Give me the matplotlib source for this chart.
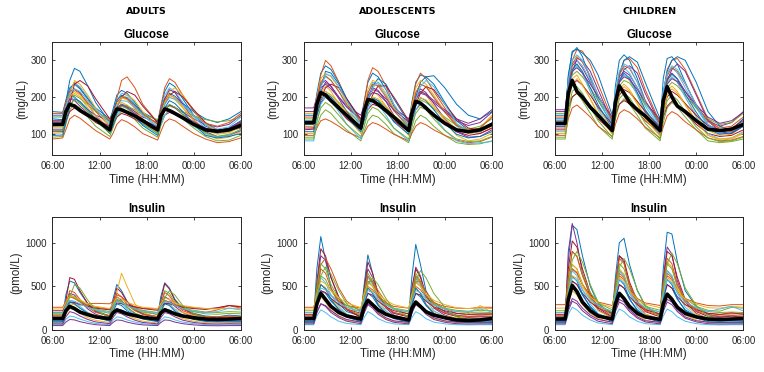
import matplotlib
matplotlib.use("Agg")
import matplotlib.pyplot as plt

# time knots, hours after 06:00
hours = [0, 1.3, 1.7, 2.2, 2.8, 3.5, 4.5, 5.5, 7.3, 7.7, 8.2, 8.8, 9.5, 10.5,
         11.5, 13.4, 13.8, 14.3, 14.9, 15.6, 16.6, 18, 19.5, 21, 22.5, 24]
tick_hours = [0, 6, 12, 18, 24]
tick_labels = ["06:00", "12:00", "18:00", "00:00", "06:00"]
groups = ["ADULTS", "ADOLESCENTS", "CHILDREN"]

# mean profiles (black)
adult_glu_mean = [125, 125, 160, 180, 175, 163, 150, 138, 110, 145, 167, 165, 158, 148, 135, 110, 148, 167, 163, 155, 143, 125, 110, 106, 110, 122]
adol_glu_mean = [130, 130, 180, 212, 205, 190, 170, 150, 115, 160, 193, 190, 180, 163, 145, 108, 155, 188, 183, 170, 150, 128, 110, 105, 110, 125]
child_glu_mean = [128, 128, 210, 245, 215, 200, 172, 150, 108, 185, 230, 210, 185, 165, 148, 108, 190, 228, 200, 175, 160, 135, 112, 108, 112, 125]
adult_ins_mean = [130, 130, 220, 270, 245, 205, 175, 150, 130, 195, 230, 210, 185, 165, 145, 125, 195, 232, 210, 185, 160, 140, 125, 120, 125, 130]
adol_ins_mean = [130, 130, 300, 420, 350, 270, 200, 160, 125, 260, 340, 290, 230, 180, 150, 115, 250, 320, 270, 210, 170, 140, 115, 110, 115, 130]
child_ins_mean = [125, 125, 350, 510, 440, 320, 220, 160, 125, 300, 420, 360, 270, 190, 150, 120, 300, 410, 350, 260, 190, 150, 125, 120, 125, 130]

# individual subjects
adult_glu = [
    [140, 138, 185, 245, 278, 270, 230, 185, 130, 165, 205, 218, 210, 185, 155, 125, 170, 215, 238, 228, 195, 150, 120, 108, 115, 135],
    [120, 122, 165, 215, 240, 225, 195, 160, 120, 150, 195, 245, 255, 225, 180, 130, 175, 225, 250, 240, 205, 160, 125, 105, 110, 128],
    [100, 102, 140, 190, 210, 200, 170, 140, 105, 130, 165, 185, 178, 160, 135, 100, 140, 180, 200, 192, 170, 135, 100, 85, 90, 105],
    [150, 150, 180, 205, 200, 185, 165, 150, 135, 150, 170, 180, 175, 160, 145, 130, 150, 170, 178, 172, 158, 140, 125, 118, 125, 150],
    [90, 92, 125, 165, 180, 170, 145, 120, 92, 115, 145, 160, 155, 138, 115, 90, 120, 150, 165, 158, 140, 115, 92, 80, 82, 95],
    [130, 130, 170, 220, 238, 228, 200, 165, 125, 150, 190, 210, 205, 180, 150, 115, 160, 205, 225, 215, 185, 145, 115, 100, 105, 125],
    [110, 110, 135, 160, 170, 162, 148, 130, 112, 125, 145, 155, 150, 140, 125, 108, 130, 150, 158, 152, 140, 125, 112, 105, 108, 115],
    [160, 158, 190, 225, 235, 222, 195, 170, 140, 160, 190, 205, 198, 178, 158, 135, 165, 195, 210, 202, 182, 160, 140, 130, 140, 160],
    [85, 88, 110, 140, 150, 142, 125, 108, 85, 100, 125, 138, 132, 118, 100, 82, 105, 130, 140, 135, 120, 100, 85, 75, 78, 88],
    [125, 126, 165, 205, 245, 235, 205, 170, 118, 140, 175, 195, 205, 190, 160, 120, 150, 185, 215, 225, 205, 165, 125, 105, 105, 120],
    [105, 105, 150, 200, 222, 212, 180, 148, 108, 135, 175, 200, 195, 170, 140, 105, 150, 195, 220, 212, 180, 138, 105, 92, 95, 108],
    [145, 145, 170, 195, 205, 196, 178, 160, 140, 150, 168, 178, 175, 165, 152, 138, 152, 168, 175, 170, 160, 148, 138, 132, 135, 145],
    [115, 115, 155, 190, 200, 185, 160, 135, 105, 125, 150, 165, 160, 145, 125, 100, 125, 150, 162, 155, 140, 120, 100, 90, 95, 112],
    [135, 135, 160, 180, 235, 245, 230, 195, 140, 150, 170, 200, 215, 205, 175, 130, 150, 180, 205, 215, 200, 165, 130, 110, 112, 130],
    [95, 96, 130, 175, 195, 188, 165, 138, 100, 120, 155, 175, 170, 150, 122, 95, 130, 170, 190, 182, 160, 125, 95, 88, 92, 100],
    [155, 155, 185, 215, 220, 208, 185, 162, 135, 155, 185, 200, 195, 175, 152, 128, 160, 190, 205, 198, 178, 150, 128, 120, 130, 155],
    [118, 118, 160, 200, 215, 205, 178, 150, 115, 140, 178, 198, 192, 168, 140, 110, 148, 185, 205, 198, 172, 138, 110, 98, 102, 118],
    [132, 132, 168, 195, 190, 175, 155, 138, 120, 138, 165, 178, 172, 155, 138, 118, 140, 165, 178, 170, 152, 132, 115, 108, 115, 132],
    [108, 108, 145, 180, 192, 182, 160, 135, 102, 128, 160, 175, 168, 150, 128, 100, 132, 165, 180, 172, 152, 125, 102, 92, 98, 110],
    [148, 148, 175, 210, 222, 215, 190, 165, 130, 145, 175, 190, 188, 172, 150, 120, 150, 180, 198, 195, 178, 150, 125, 112, 118, 145],
]
adol_glu = [
    [150, 150, 210, 265, 285, 275, 240, 195, 135, 185, 240, 265, 255, 220, 175, 125, 185, 240, 260, 255, 258, 225, 180, 150, 140, 160],
    [120, 118, 190, 260, 300, 285, 240, 190, 130, 180, 245, 280, 270, 230, 180, 120, 175, 235, 265, 250, 215, 170, 125, 105, 100, 115],
    [100, 100, 160, 210, 230, 215, 180, 145, 100, 140, 190, 215, 205, 175, 140, 95, 140, 190, 215, 205, 175, 135, 95, 80, 85, 100],
    [170, 170, 200, 235, 245, 230, 200, 175, 150, 175, 205, 220, 215, 195, 170, 140, 170, 200, 215, 208, 190, 165, 140, 128, 140, 165],
    [85, 85, 120, 150, 165, 155, 130, 110, 80, 105, 135, 150, 145, 125, 100, 75, 105, 135, 150, 142, 120, 95, 75, 70, 72, 80],
    [135, 135, 185, 235, 255, 245, 215, 175, 120, 160, 210, 240, 235, 205, 165, 115, 160, 210, 235, 228, 200, 160, 120, 100, 105, 130],
    [110, 112, 150, 185, 200, 190, 165, 140, 110, 135, 165, 180, 175, 158, 135, 105, 135, 165, 180, 172, 155, 130, 105, 95, 100, 115],
    [125, 125, 175, 225, 270, 265, 235, 195, 135, 150, 190, 230, 250, 235, 195, 130, 155, 200, 240, 255, 235, 185, 135, 110, 105, 125],
    [95, 95, 115, 135, 140, 133, 120, 105, 88, 100, 120, 130, 125, 112, 98, 80, 100, 120, 130, 124, 110, 95, 82, 75, 78, 90],
    [155, 155, 200, 250, 265, 255, 225, 185, 135, 170, 220, 245, 240, 210, 170, 125, 175, 225, 245, 235, 205, 160, 125, 110, 115, 150],
    [115, 115, 165, 215, 240, 228, 195, 160, 115, 150, 200, 225, 218, 188, 150, 105, 150, 200, 222, 212, 182, 140, 105, 90, 92, 110],
    [140, 140, 175, 205, 215, 205, 185, 162, 128, 150, 180, 195, 190, 172, 150, 118, 148, 178, 192, 185, 168, 145, 122, 112, 120, 140],
    [80, 80, 130, 180, 200, 188, 160, 125, 85, 120, 165, 190, 180, 150, 115, 80, 120, 165, 185, 175, 148, 110, 80, 72, 75, 78],
    [130, 130, 160, 195, 225, 235, 225, 195, 140, 150, 175, 205, 230, 230, 200, 135, 150, 180, 210, 228, 220, 180, 140, 115, 110, 128],
    [105, 105, 150, 190, 210, 200, 175, 145, 105, 135, 175, 198, 190, 165, 132, 98, 135, 175, 198, 190, 165, 128, 98, 88, 92, 105],
    [145, 145, 195, 240, 258, 245, 215, 180, 130, 165, 210, 235, 230, 200, 162, 120, 165, 212, 235, 228, 198, 158, 122, 108, 115, 145],
    [120, 120, 165, 200, 215, 205, 182, 155, 118, 145, 180, 200, 195, 175, 150, 112, 145, 180, 198, 192, 172, 142, 112, 100, 105, 120],
    [160, 160, 195, 225, 235, 222, 198, 172, 140, 165, 198, 212, 208, 188, 165, 132, 165, 195, 210, 205, 185, 160, 135, 122, 130, 158],
    [90, 90, 135, 170, 185, 175, 150, 125, 92, 118, 155, 172, 165, 142, 115, 85, 118, 155, 172, 165, 140, 108, 85, 78, 80, 92],
    [128, 128, 180, 225, 262, 258, 228, 190, 125, 150, 195, 225, 240, 222, 180, 118, 150, 195, 228, 245, 228, 180, 128, 105, 105, 125],
]
child_glu = [
    [140, 140, 260, 320, 335, 310, 250, 190, 125, 230, 300, 315, 300, 250, 190, 120, 250, 305, 310, 290, 240, 175, 125, 105, 110, 140],
    [115, 115, 230, 300, 330, 325, 290, 235, 140, 200, 265, 300, 305, 280, 220, 130, 210, 275, 300, 305, 275, 210, 140, 110, 105, 120],
    [100, 100, 200, 250, 260, 235, 195, 150, 100, 175, 220, 235, 220, 185, 145, 95, 170, 215, 230, 215, 180, 135, 95, 82, 85, 100],
    [165, 165, 240, 285, 300, 280, 240, 200, 140, 200, 255, 270, 260, 225, 185, 130, 195, 250, 265, 250, 215, 170, 135, 120, 130, 160],
    [85, 85, 150, 200, 210, 190, 155, 120, 85, 140, 180, 195, 180, 150, 115, 80, 130, 170, 185, 172, 145, 110, 80, 75, 78, 85],
    [130, 130, 250, 295, 300, 285, 245, 195, 120, 210, 265, 280, 265, 225, 175, 115, 215, 265, 280, 265, 225, 170, 120, 100, 100, 125],
    [110, 110, 170, 200, 210, 195, 170, 140, 105, 150, 180, 190, 182, 160, 135, 100, 145, 175, 188, 178, 155, 125, 100, 92, 95, 110],
    [150, 150, 255, 325, 330, 320, 300, 260, 150, 200, 260, 300, 310, 295, 240, 140, 210, 270, 300, 310, 300, 240, 160, 120, 110, 140],
    [95, 95, 140, 170, 178, 165, 145, 120, 92, 125, 155, 165, 158, 140, 118, 88, 118, 148, 160, 152, 132, 110, 88, 80, 82, 92],
    [125, 125, 230, 280, 290, 265, 215, 170, 110, 195, 245, 260, 245, 205, 160, 105, 190, 240, 255, 240, 200, 150, 108, 95, 98, 120],
    [120, 120, 210, 265, 305, 300, 270, 220, 130, 185, 240, 275, 285, 265, 210, 125, 190, 245, 275, 290, 270, 205, 135, 105, 100, 120],
    [155, 155, 225, 260, 270, 255, 225, 190, 140, 190, 230, 245, 238, 210, 180, 135, 185, 225, 240, 230, 205, 170, 140, 125, 130, 155],
    [105, 105, 210, 270, 285, 265, 215, 165, 100, 185, 240, 260, 248, 205, 155, 95, 180, 235, 255, 240, 200, 145, 100, 85, 88, 105],
    [135, 135, 200, 235, 245, 232, 205, 172, 125, 170, 205, 220, 212, 188, 160, 118, 165, 200, 215, 205, 182, 150, 122, 110, 115, 135],
    [120, 120, 220, 275, 290, 270, 225, 178, 115, 190, 245, 265, 252, 212, 165, 110, 195, 245, 262, 248, 208, 158, 112, 98, 102, 120],
    [145, 145, 235, 290, 310, 295, 255, 205, 135, 205, 260, 285, 278, 240, 190, 128, 205, 258, 280, 270, 235, 180, 132, 115, 120, 145],
    [100, 100, 185, 235, 250, 232, 195, 155, 98, 165, 210, 228, 215, 180, 140, 92, 160, 205, 222, 210, 178, 132, 95, 85, 88, 102],
    [160, 160, 235, 270, 280, 265, 235, 200, 145, 195, 240, 255, 248, 220, 185, 138, 192, 235, 250, 242, 215, 178, 145, 128, 135, 158],
    [90, 90, 165, 215, 228, 210, 172, 135, 90, 150, 195, 210, 198, 165, 128, 85, 148, 190, 205, 192, 160, 118, 88, 78, 80, 90],
    [135, 135, 245, 300, 315, 300, 258, 205, 128, 215, 270, 290, 282, 240, 185, 120, 215, 265, 285, 275, 238, 178, 125, 105, 108, 132],
]
adult_ins = [
    [150, 150, 400, 560, 540, 430, 300, 220, 160, 350, 520, 450, 330, 240, 190, 150, 380, 540, 480, 350, 250, 190, 160, 150, 170, 160],
    [260, 260, 330, 380, 360, 320, 280, 260, 240, 290, 340, 320, 290, 265, 250, 240, 290, 340, 320, 290, 270, 255, 245, 250, 280, 270],
    [80, 80, 180, 250, 230, 190, 140, 110, 85, 170, 230, 210, 170, 130, 100, 80, 170, 230, 210, 170, 130, 100, 85, 80, 85, 85],
    [120, 120, 280, 420, 400, 330, 240, 180, 130, 260, 380, 340, 260, 190, 150, 120, 260, 380, 350, 270, 200, 150, 125, 120, 130, 125],
    [200, 200, 300, 380, 370, 330, 280, 240, 210, 270, 330, 310, 280, 250, 225, 200, 270, 330, 310, 280, 250, 225, 205, 200, 210, 205],
    [60, 60, 120, 160, 150, 125, 95, 75, 60, 110, 150, 140, 115, 90, 72, 60, 110, 150, 140, 115, 90, 72, 62, 58, 60, 60],
    [140, 140, 330, 600, 580, 450, 300, 210, 150, 300, 480, 430, 320, 230, 180, 145, 330, 530, 470, 340, 240, 180, 150, 140, 150, 145],
    [100, 100, 200, 270, 260, 220, 175, 140, 110, 180, 240, 230, 200, 160, 130, 105, 180, 240, 230, 195, 160, 130, 110, 100, 105, 100],
    [170, 170, 260, 320, 310, 285, 300, 305, 300, 330, 400, 380, 320, 260, 220, 175, 260, 330, 320, 280, 240, 210, 200, 230, 280, 250],
    [130, 130, 230, 300, 290, 250, 200, 165, 140, 250, 430, 650, 500, 300, 200, 140, 220, 300, 290, 240, 200, 165, 140, 130, 140, 135],
    [50, 50, 90, 120, 115, 95, 75, 60, 50, 85, 115, 110, 90, 70, 58, 50, 85, 115, 110, 90, 72, 58, 50, 48, 50, 50],
    [180, 180, 300, 400, 380, 330, 270, 225, 190, 260, 350, 330, 280, 235, 205, 180, 300, 450, 420, 320, 250, 210, 185, 180, 190, 185],
    [110, 110, 260, 340, 320, 270, 200, 150, 115, 230, 330, 310, 240, 175, 135, 110, 220, 320, 300, 230, 170, 130, 112, 105, 112, 110],
    [220, 220, 280, 320, 315, 295, 270, 250, 230, 270, 310, 300, 285, 265, 245, 225, 265, 305, 300, 280, 260, 245, 235, 255, 280, 265],
    [90, 90, 220, 320, 300, 250, 190, 145, 100, 210, 300, 280, 220, 165, 125, 95, 210, 300, 280, 215, 160, 120, 98, 92, 95, 92],
    [160, 160, 300, 450, 430, 350, 260, 200, 165, 280, 420, 380, 290, 220, 180, 155, 290, 430, 390, 300, 220, 175, 155, 150, 160, 155],
    [240, 240, 320, 390, 380, 345, 300, 270, 245, 300, 370, 355, 315, 285, 260, 245, 300, 365, 350, 310, 280, 260, 245, 240, 250, 245],
    [70, 70, 150, 210, 195, 160, 120, 92, 72, 140, 200, 185, 150, 112, 86, 70, 140, 200, 185, 150, 112, 86, 72, 68, 72, 70],
    [120, 120, 250, 380, 520, 480, 340, 230, 140, 240, 350, 330, 260, 195, 155, 125, 250, 370, 450, 400, 280, 185, 135, 120, 125, 120],
    [190, 190, 280, 340, 330, 300, 260, 230, 200, 270, 330, 315, 280, 245, 215, 195, 270, 330, 315, 280, 245, 215, 200, 210, 250, 230],
]
adol_ins = [
    [150, 150, 700, 1070, 800, 480, 300, 210, 160, 500, 860, 650, 400, 260, 200, 160, 600, 980, 750, 450, 290, 210, 170, 155, 160, 155],
    [260, 260, 400, 520, 480, 400, 320, 280, 250, 380, 500, 460, 380, 310, 270, 250, 380, 500, 460, 380, 310, 270, 250, 245, 260, 260],
    [80, 80, 260, 380, 320, 230, 150, 110, 85, 230, 330, 280, 190, 130, 100, 80, 230, 330, 280, 190, 130, 100, 82, 78, 80, 80],
    [120, 120, 500, 850, 800, 600, 380, 240, 140, 420, 700, 600, 400, 250, 170, 125, 450, 720, 620, 400, 250, 170, 130, 120, 125, 120],
    [200, 200, 420, 620, 580, 450, 330, 260, 210, 380, 560, 500, 380, 290, 240, 205, 380, 560, 500, 380, 290, 240, 210, 200, 205, 200],
    [60, 60, 160, 230, 200, 150, 100, 75, 60, 140, 210, 180, 130, 90, 70, 60, 140, 210, 180, 130, 90, 70, 60, 58, 60, 60],
    [140, 140, 550, 930, 850, 600, 360, 230, 150, 450, 780, 650, 420, 270, 190, 150, 480, 700, 600, 400, 260, 190, 155, 145, 150, 145],
    [100, 100, 300, 450, 420, 330, 240, 170, 110, 280, 420, 380, 280, 190, 140, 105, 280, 420, 380, 280, 190, 140, 110, 100, 105, 100],
    [170, 170, 380, 750, 820, 700, 480, 330, 210, 350, 550, 560, 450, 320, 240, 180, 350, 550, 560, 440, 320, 240, 190, 175, 180, 175],
    [130, 130, 350, 520, 480, 360, 250, 180, 135, 320, 500, 440, 310, 210, 160, 130, 320, 480, 420, 300, 210, 160, 135, 185, 280, 200],
    [90, 90, 200, 300, 280, 220, 160, 120, 90, 200, 300, 270, 200, 140, 105, 88, 200, 300, 270, 200, 140, 105, 90, 85, 88, 90],
    [220, 220, 500, 760, 700, 520, 360, 280, 230, 420, 650, 560, 400, 300, 250, 220, 420, 650, 560, 400, 300, 250, 225, 215, 225, 220],
    [110, 110, 420, 600, 540, 400, 270, 180, 115, 380, 600, 520, 350, 220, 150, 110, 380, 600, 520, 350, 220, 150, 115, 105, 110, 110],
    [180, 180, 330, 450, 430, 360, 290, 240, 190, 310, 420, 400, 330, 265, 220, 185, 310, 420, 400, 330, 265, 220, 190, 180, 185, 185],
    [90, 90, 330, 520, 470, 350, 230, 150, 95, 300, 480, 420, 290, 190, 130, 90, 300, 480, 420, 290, 190, 130, 95, 88, 90, 88],
    [160, 160, 430, 700, 650, 480, 330, 240, 165, 380, 620, 540, 380, 260, 200, 160, 380, 620, 540, 380, 260, 200, 165, 155, 160, 158],
    [240, 240, 420, 560, 530, 450, 370, 310, 255, 400, 540, 500, 410, 340, 290, 250, 400, 540, 500, 410, 340, 290, 255, 245, 250, 245],
    [70, 70, 200, 300, 270, 200, 140, 100, 72, 190, 290, 250, 180, 120, 88, 70, 190, 290, 250, 180, 120, 88, 72, 68, 70, 70],
    [120, 120, 380, 620, 720, 640, 450, 300, 160, 330, 520, 600, 520, 360, 240, 150, 350, 560, 680, 600, 420, 260, 150, 125, 125, 120],
    [200, 200, 350, 480, 460, 390, 310, 260, 210, 330, 450, 430, 350, 285, 240, 205, 330, 450, 430, 350, 285, 240, 210, 210, 240, 210],
]
child_ins = [
    [150, 150, 800, 1200, 1150, 850, 500, 300, 180, 600, 1000, 1050, 750, 450, 280, 160, 700, 1120, 1100, 780, 450, 270, 180, 150, 160, 150],
    [290, 290, 500, 700, 650, 520, 400, 320, 280, 450, 620, 580, 460, 360, 310, 280, 450, 620, 580, 460, 360, 310, 280, 275, 290, 290],
    [80, 80, 300, 450, 400, 290, 190, 130, 85, 280, 420, 380, 270, 170, 115, 80, 280, 420, 380, 270, 170, 115, 85, 78, 80, 80],
    [120, 120, 900, 1220, 1000, 650, 380, 230, 140, 520, 850, 780, 500, 300, 180, 125, 600, 950, 870, 560, 320, 190, 130, 120, 125, 120],
    [200, 200, 500, 750, 700, 530, 360, 270, 210, 450, 680, 620, 450, 320, 250, 205, 450, 680, 620, 450, 320, 250, 210, 200, 205, 200],
    [60, 60, 180, 260, 230, 170, 115, 80, 60, 160, 240, 210, 150, 100, 72, 60, 160, 240, 210, 150, 100, 72, 60, 58, 60, 60],
    [140, 140, 700, 1020, 950, 700, 420, 250, 150, 500, 850, 800, 550, 330, 210, 150, 550, 900, 850, 600, 350, 210, 155, 145, 160, 145],
    [100, 100, 380, 560, 520, 400, 270, 180, 110, 340, 520, 480, 350, 230, 160, 105, 340, 520, 480, 350, 230, 160, 110, 100, 105, 100],
    [170, 170, 450, 700, 660, 520, 380, 280, 200, 420, 650, 600, 450, 320, 240, 180, 420, 650, 600, 450, 320, 240, 190, 175, 200, 175],
    [130, 130, 550, 750, 700, 520, 340, 220, 135, 420, 700, 640, 440, 280, 180, 130, 480, 780, 720, 480, 290, 180, 135, 130, 135, 130],
    [90, 90, 250, 360, 330, 250, 170, 120, 90, 240, 350, 320, 230, 150, 105, 88, 240, 350, 320, 230, 150, 105, 90, 85, 88, 90],
    [220, 220, 600, 900, 850, 640, 430, 310, 230, 500, 760, 700, 500, 360, 270, 225, 500, 760, 700, 500, 360, 270, 225, 215, 260, 250],
    [110, 110, 480, 680, 620, 460, 300, 190, 115, 440, 680, 620, 420, 260, 160, 110, 440, 680, 620, 420, 260, 160, 115, 105, 110, 110],
    [180, 180, 400, 560, 520, 420, 320, 250, 190, 380, 520, 480, 380, 290, 230, 185, 380, 520, 480, 380, 290, 230, 190, 180, 185, 185],
    [90, 90, 400, 620, 560, 410, 260, 170, 95, 380, 580, 520, 360, 220, 140, 90, 380, 580, 520, 360, 220, 140, 95, 88, 90, 88],
    [160, 160, 600, 900, 840, 620, 400, 260, 170, 520, 820, 760, 520, 330, 220, 165, 520, 820, 760, 520, 330, 220, 170, 160, 165, 160],
    [250, 250, 450, 620, 590, 490, 380, 310, 255, 430, 600, 560, 450, 350, 295, 255, 430, 600, 560, 450, 350, 295, 255, 250, 270, 260],
    [70, 70, 220, 330, 300, 220, 150, 100, 72, 210, 320, 290, 210, 135, 92, 70, 210, 320, 290, 210, 135, 92, 72, 68, 70, 70],
    [120, 120, 500, 800, 900, 780, 520, 320, 160, 450, 720, 820, 700, 460, 280, 150, 480, 760, 880, 760, 480, 280, 155, 125, 125, 120],
    [200, 200, 420, 600, 570, 460, 350, 280, 210, 400, 580, 540, 420, 320, 255, 205, 400, 580, 540, 420, 320, 255, 210, 240, 270, 220],
]

matlab_colors = ["#0072BD", "#D95319", "#EDB120", "#7E2F8E", "#77AC30", "#4DBEEE", "#A2142F"]

plt.rcParams["font.family"] = ["Liberation Sans", "DejaVu Sans"]

fig = plt.figure(figsize=(7.64, 3.72), dpi=100)

lefts = [0.0687, 0.3973, 0.7264]
width = 0.2465
rows = [
    dict(bottom=0.582, title="Glucose", ylabel="(mg/dL)", ylim=(40, 350), yticks=[100, 200, 300],
         traces=[adult_glu, adol_glu, child_glu], means=[adult_glu_mean, adol_glu_mean, child_glu_mean]),
    dict(bottom=0.113, title="Insulin", ylabel="(pmol/L)", ylim=(0, 1300), yticks=[0, 500, 1000],
         traces=[adult_ins, adol_ins, child_ins], means=[adult_ins_mean, adol_ins_mean, child_ins_mean]),
]

for row in rows:
    for j in range(3):
        ax = fig.add_axes([lefts[j], row["bottom"], width, 0.305])
        for k, tr in enumerate(row["traces"][j]):
            ax.plot(hours, tr, color=matlab_colors[k % 7], lw=0.7)
        ax.plot(hours, row["means"][j], color="black", lw=2.6)
        ax.set_xlim(0, 24)
        ax.set_ylim(*row["ylim"])
        ax.set_xticks(tick_hours)
        ax.set_xticklabels(tick_labels)
        ax.set_yticks(row["yticks"])
        ax.tick_params(direction="in", length=2.5, width=0.6, top=True, right=True,
                       labelsize=7, colors="#262626", pad=4)
        for s in ax.spines.values():
            s.set_linewidth(0.7)
            s.set_color("#262626")
        ax.set_title(row["title"], fontsize=8.3, fontweight="bold", pad=3)
        ax.set_xlabel("Time (HH:MM)", fontsize=8.3, labelpad=2, color="#262626")
        ax.set_ylabel(row["ylabel"], fontsize=8.3, labelpad=2, color="#262626")

for j, name in enumerate(groups):
    fig.text(lefts[j] + width / 2, 0.970, name, ha="center", va="center",
             fontsize=6.8, fontweight="bold", family=["DejaVu Sans"])

fig.savefig("out.png", dpi=100)
